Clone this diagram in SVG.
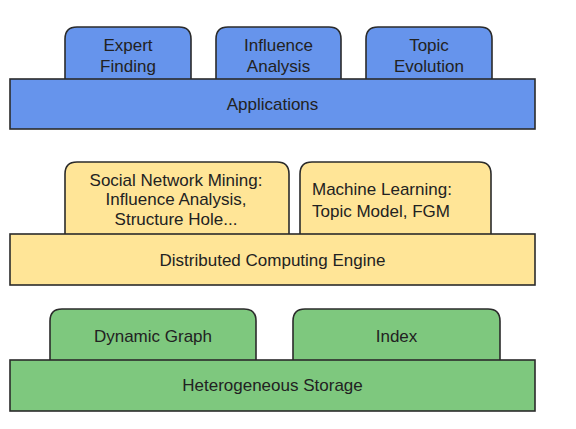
<svg xmlns="http://www.w3.org/2000/svg" width="576" height="429" viewBox="0 0 576 429">
<style>
.box{stroke:#2b2b2b;stroke-width:1.6}
.blue{fill:#6694ec}
.yellow{fill:#ffe597}
.green{fill:#7ec87e}
text{font-family:"Liberation Sans",Arial,sans-serif;font-size:17px;fill:#222}
.c{text-anchor:middle}
</style>
<rect width="576" height="429" fill="#ffffff"/>
<g id="connectors"/>
<g id="expert-finding"><path class="box blue" d="M65,80 V39 Q65,27 77,27 H179 Q191,27 191,39 V80"/><text class="c" x="128" y="51">Expert</text><text class="c" x="128" y="72">Finding</text></g>
<g id="influence-analysis"><path class="box blue" d="M216,80 V39 Q216,27 228,27 H329 Q341,27 341,39 V80"/><text class="c" x="278.5" y="51">Influence</text><text class="c" x="278.5" y="72">Analysis</text></g>
<g id="topic-evolution"><path class="box blue" d="M366,80 V39 Q366,27 378,27 H480 Q492,27 492,39 V80"/><text class="c" x="429" y="51">Topic</text><text class="c" x="429" y="72">Evolution</text></g>
<g id="applications"><rect class="box blue" x="10" y="79" width="525" height="50"/><text class="c" x="272.5" y="110">Applications</text></g>
<g id="social-network-mining"><path class="box yellow" d="M65,235 V174 Q65,162 77,162 H277 Q289,162 289,174 V235"/><text class="c" x="176" y="186">Social Network Mining:</text><text class="c" x="176" y="205">Influence Analysis,</text><text class="c" x="176" y="225">Structure Hole...</text></g>
<g id="machine-learning"><path class="box yellow" d="M300,235 V174 Q300,162 312,162 H479 Q491,162 491,174 V235"/><text x="312" y="195">Machine Learning:</text><text x="312" y="217">Topic Model, FGM</text></g>
<g id="distributed-computing-engine"><rect class="box yellow" x="10" y="234" width="525" height="51"/><text class="c" x="272.5" y="266">Distributed Computing Engine</text></g>
<g id="dynamic-graph"><path class="box green" d="M50,361 V321 Q50,309 62,309 H244 Q256,309 256,321 V361"/><text class="c" x="153" y="342">Dynamic Graph</text></g>
<g id="index"><path class="box green" d="M293,361 V321 Q293,309 305,309 H488 Q500,309 500,321 V361"/><text class="c" x="396.5" y="342">Index</text></g>
<g id="heterogeneous-storage"><rect class="box green" x="10" y="360" width="525" height="51"/><text class="c" x="272.5" y="391">Heterogeneous Storage</text></g>
</svg>
